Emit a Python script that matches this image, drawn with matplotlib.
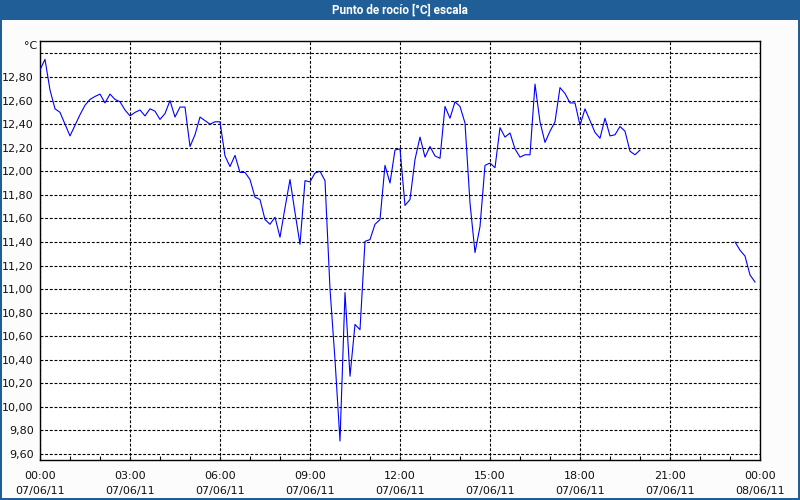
import matplotlib
matplotlib.use("Agg")
import matplotlib.pyplot as plt
import matplotlib.dates as mdates
from matplotlib.patches import Rectangle
import numpy as np
import pandas as pd

# ---------------- data (10-minute samples) ----------------
seg1_start = "2011-06-07 00:00"
seg1_values = [
    12.86, 12.95, 12.69, 12.53, 12.50, 12.40, 12.30, 12.39, 12.48, 12.56,
    12.61, 12.635, 12.655, 12.58, 12.655, 12.61, 12.59, 12.52, 12.47, 12.50,
    12.52, 12.47, 12.53, 12.51, 12.44, 12.49, 12.60, 12.46, 12.545, 12.545,
    12.21, 12.31, 12.46, 12.43, 12.40, 12.42, 12.42, 12.13, 12.04, 12.135,
    11.99, 11.99, 11.93, 11.78, 11.76, 11.59, 11.55, 11.61, 11.44, 11.69,
    11.93, 11.65, 11.38, 11.92, 11.91, 11.985, 12.00, 11.92, 11.00, 10.40,
    9.71, 10.97, 10.26, 10.70, 10.655, 11.405, 11.42, 11.55, 11.59, 12.05,
    11.90, 12.18, 12.19, 11.71, 11.76, 12.10, 12.29, 12.12, 12.21, 12.13,
    12.11, 12.55, 12.45, 12.59, 12.55, 12.41, 11.73, 11.31, 11.53, 12.05,
    12.07, 12.03, 12.37, 12.29, 12.325, 12.19, 12.12, 12.14, 12.14, 12.74,
    12.42, 12.245, 12.34, 12.42, 12.71, 12.66, 12.58, 12.58, 12.39, 12.53,
    12.43, 12.33, 12.28, 12.45, 12.30, 12.31, 12.38, 12.34, 12.17, 12.14,
    12.18,
]
seg2_start = "2011-06-07 23:10"
seg2_values = [11.40, 11.33, 11.28, 11.12, 11.06]

y_ticks = [9.6, 9.8, 10.0, 10.2, 10.4, 10.6, 10.8, 11.0, 11.2, 11.4,
           11.6, 11.8, 12.0, 12.2, 12.4, 12.6, 12.8, 13.0]
x_tick_times = ["2011-06-07 00:00", "2011-06-07 03:00", "2011-06-07 06:00",
                "2011-06-07 09:00", "2011-06-07 12:00", "2011-06-07 15:00",
                "2011-06-07 18:00", "2011-06-07 21:00", "2011-06-08 00:00"]
x_tick_labels = ["00:00\n07/06/11", "03:00\n07/06/11", "06:00\n07/06/11",
                 "09:00\n07/06/11", "12:00\n07/06/11", "15:00\n07/06/11",
                 "18:00\n07/06/11", "21:00\n07/06/11", "00:00\n08/06/11"]
title = "Punto de rocío [°C] escala"
unit = "°C"

# ---------------- figure ----------------
W, H = 800, 500
bar_col = "#1f5e96"
fig = plt.figure(figsize=(W / 100, H / 100), dpi=100, facecolor="#fbfcfb")

# title bar and window border
fig.patches.append(Rectangle((0, 1 - 20 / H), 1, 20 / H, transform=fig.transFigure,
                             facecolor=bar_col, edgecolor="none", zorder=0))
fig.patches.append(Rectangle((0, 0), 2 / W, 1, transform=fig.transFigure,
                             facecolor=bar_col, edgecolor="none", zorder=0))
fig.patches.append(Rectangle((1 - 2 / W, 0), 2 / W, 1, transform=fig.transFigure,
                             facecolor=bar_col, edgecolor="none", zorder=0))
fig.patches.append(Rectangle((0, 0), 1, 2 / H, transform=fig.transFigure,
                             facecolor=bar_col, edgecolor="none", zorder=0))
fig.text(0.5, 1 - 10.5 / H, title, ha="center", va="center", color="white",
         fontsize=8.5, fontweight="bold", family=["Roboto", "DejaVu Sans"])

left, right, top, bottom = 40, 760, 40.5, 460
ax = fig.add_axes([left / W, 1 - bottom / H, (right - left) / W, (bottom - top) / H])
ax.set_facecolor("#ffffff")

t1 = pd.date_range(seg1_start, periods=len(seg1_values), freq="10min")
t2 = pd.date_range(seg2_start, periods=len(seg2_values), freq="10min")
ax.plot(t1, seg1_values, color="#0000ff", lw=0.8, zorder=3)
ax.plot(t2, seg2_values, color="#0000ff", lw=0.8, zorder=3)

ax.set_ylim(9.549, 13.11)
ax.set_xlim(pd.Timestamp("2011-06-07 00:00"), pd.Timestamp("2011-06-08 00:00"))

ax.set_yticks(y_ticks)
ax.set_yticklabels([("%.2f" % v).replace(".", ",") if v < 12.95 else "" for v in y_ticks])
xt = pd.to_datetime(x_tick_times)
ax.set_xticks(xt)
ax.set_xticklabels(x_tick_labels, linespacing=1.55)
ax.xaxis.set_minor_locator(mdates.HourLocator())

ax.tick_params(axis="y", length=0, pad=4.5, labelsize=8, colors="#111111")
ax.tick_params(axis="x", which="major", direction="in", length=3, width=0.8,
               pad=8, labelsize=8, colors="#111111")
ax.tick_params(axis="x", which="minor", direction="in", length=3, width=0.8)

dash = (0, (2.6, 1.6))
ax.grid(True, axis="both", which="major", color="black", lw=0.8, linestyle=dash, zorder=1)

for s in ax.spines.values():
    s.set_color("black")
    s.set_linewidth(1.0)

fig.text(31 / W, 1 - 46 / H, unit, ha="center", va="center", fontsize=8, color="#111111")

fig.savefig("out.png", dpi=100, facecolor=fig.get_facecolor())
